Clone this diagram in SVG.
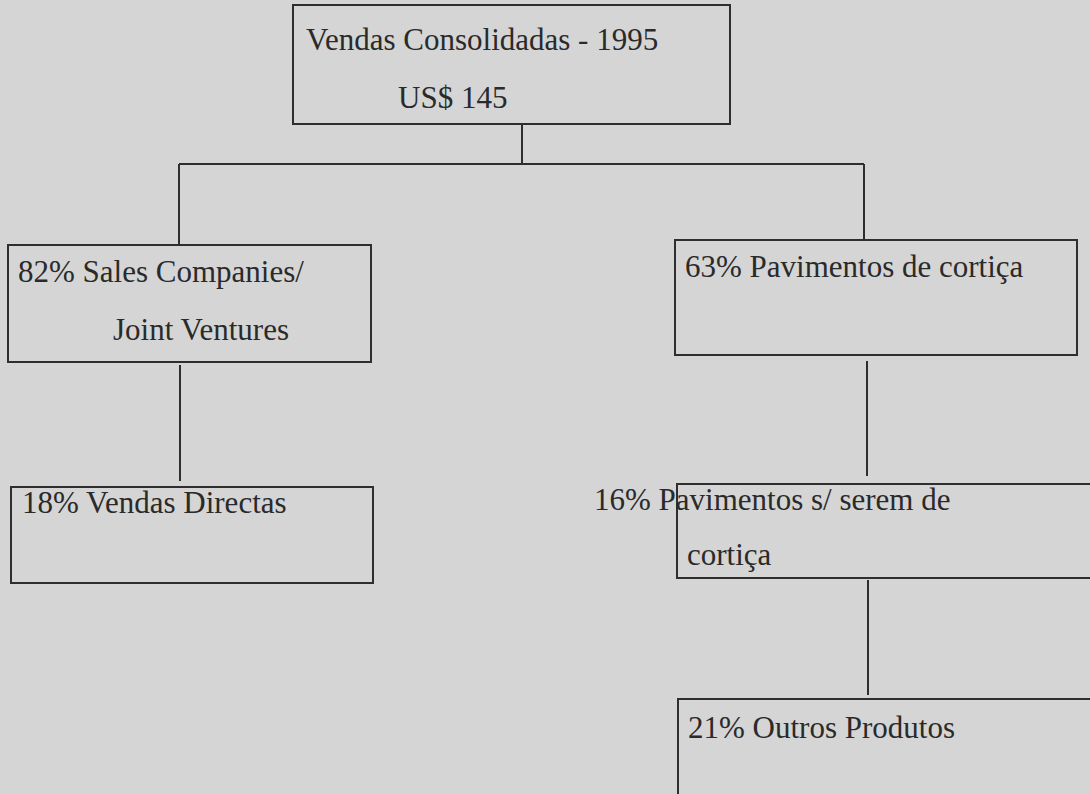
<svg xmlns="http://www.w3.org/2000/svg" width="1090" height="794" viewBox="0 0 1090 794">
  <style>
    .box { fill: none; stroke: #2e2e2e; stroke-width: 2; }
    .wire { fill: none; stroke: #2e2e2e; stroke-width: 2; }
    .lbl { font-family: "Liberation Serif", "Times New Roman", serif; font-size: 31px; fill: #2a2a2a; }
  </style>
  <rect width="1090" height="794" fill="#d5d5d5"/>

  <!-- connectors -->
  <g id="connectors">
    <line class="wire" x1="522" y1="124" x2="522" y2="164"/>
    <line class="wire" x1="179" y1="164" x2="864" y2="164"/>
    <line class="wire" x1="179" y1="164" x2="179" y2="245"/>
    <line class="wire" x1="864" y1="164" x2="864" y2="240"/>
    <line class="wire" x1="180" y1="365" x2="180" y2="481"/>
    <line class="wire" x1="867" y1="361" x2="867" y2="476"/>
    <line class="wire" x1="868" y1="580" x2="868" y2="695"/>
  </g>

  <g id="total">
    <rect class="box" x="293" y="5" width="437" height="119"/>
    <text class="lbl" x="306" y="50">Vendas Consolidadas - 1995</text>
    <text class="lbl" x="398" y="108">US$ 145</text>
  </g>

  <g id="sales-companies">
    <rect class="box" x="8" y="245" width="363" height="117"/>
    <text class="lbl" x="18" y="282">82% Sales Companies/</text>
    <text class="lbl" x="113" y="340">Joint Ventures</text>
  </g>

  <g id="vendas-directas">
    <rect class="box" x="11" y="487" width="362" height="96"/>
    <text class="lbl" x="22" y="513">18% Vendas Directas</text>
  </g>

  <g id="pavimentos-cortica">
    <rect class="box" x="675" y="240" width="402" height="115"/>
    <text class="lbl" x="685" y="277">63% Pavimentos de cortiça</text>
  </g>

  <g id="pavimentos-outros">
    <rect class="box" x="677" y="484" width="430" height="94"/>
    <text class="lbl" x="594" y="510">16% Pavimentos s/ serem de</text>
    <text class="lbl" x="687" y="565">cortiça</text>
  </g>

  <g id="outros-produtos">
    <rect class="box" x="678" y="699" width="430" height="110"/>
    <text class="lbl" x="688" y="738">21% Outros Produtos</text>
  </g>
</svg>
